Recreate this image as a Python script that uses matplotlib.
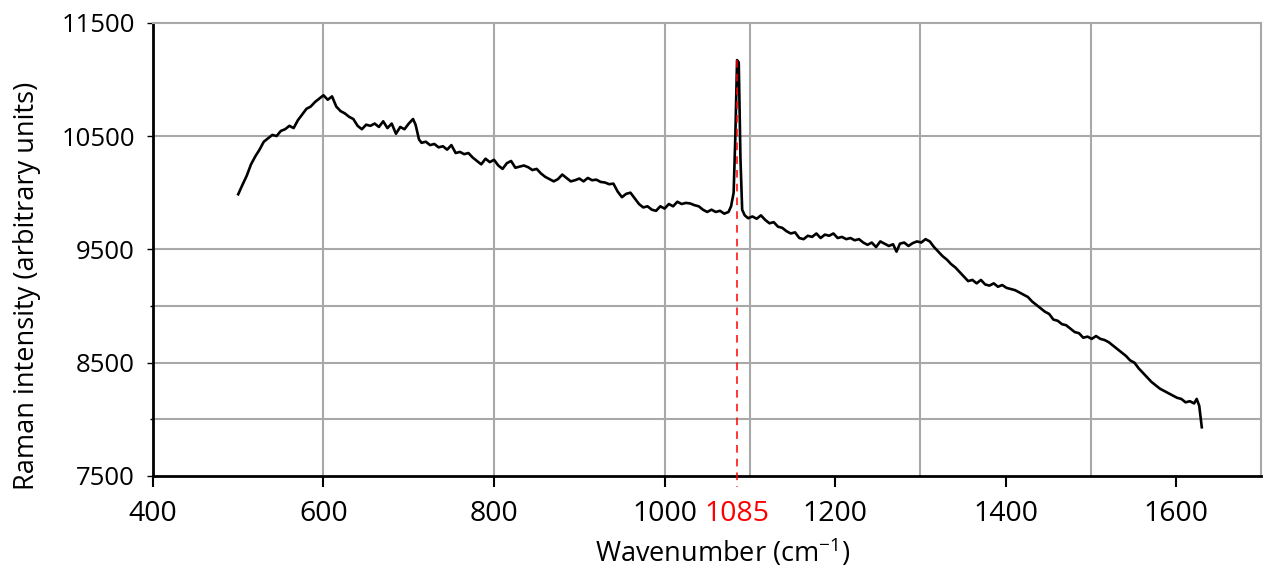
import matplotlib.pyplot as plt

plt.rcParams['font.family'] = ['Open Sans', 'DejaVu Sans']
plt.rcParams['mathtext.default'] = 'regular'

# Raman spectrum (wavenumber in cm-1, intensity in a.u.)
wavenumber = [
    500, 505, 510, 515, 520, 525, 530, 535, 540, 545, 550, 555, 560, 565, 570, 575, 580, 585, 590, 595,
    600, 605, 610, 615, 620, 625, 630, 635, 640, 645, 650, 655, 660, 665, 670, 675, 680, 685, 690, 695,
    700, 705, 708, 712, 715, 720, 725, 730, 735, 740, 745, 750, 755, 760, 765, 770, 775, 780, 785, 790,
    795, 800, 805, 810, 815, 820, 825, 830, 835, 840, 845, 850, 855, 860, 865, 870, 875, 880, 885, 890,
    895, 900, 905, 910, 915, 920, 925, 930, 935, 940, 945, 950, 955, 960, 965, 970, 975, 980, 985, 990,
    995, 1000, 1005, 1010, 1015, 1020, 1025, 1030, 1035, 1040, 1045, 1050, 1055, 1060, 1065, 1070, 1075, 1078, 1081, 1083,
    1085, 1087, 1089, 1091, 1094, 1098, 1103, 1108, 1113, 1118, 1123, 1128, 1133, 1138, 1143, 1148, 1153, 1158, 1163, 1168,
    1173, 1178, 1183, 1188, 1193, 1198, 1203, 1208, 1213, 1218, 1223, 1228, 1233, 1238, 1243, 1248, 1253, 1258, 1263, 1268,
    1272, 1276, 1281, 1286, 1291, 1296, 1301, 1306, 1311, 1316, 1321, 1326, 1331, 1336, 1341, 1346, 1351, 1356, 1361, 1366,
    1371, 1376, 1381, 1386, 1391, 1396, 1401, 1406, 1411, 1416, 1421, 1426, 1431, 1436, 1441, 1446, 1451, 1456, 1461, 1466,
    1471, 1476, 1481, 1486, 1491, 1496, 1501, 1506, 1511, 1516, 1521, 1526, 1531, 1536, 1541, 1546, 1551, 1556, 1561, 1566,
    1571, 1576, 1581, 1586, 1591, 1596, 1601, 1606, 1611, 1616, 1621, 1624, 1627, 1630,
]
intensity = [
    9986, 10070, 10150, 10250, 10320, 10380, 10450, 10480, 10510, 10500, 10545, 10560, 10590, 10570, 10640, 10690, 10740, 10760, 10800, 10830,
    10860, 10820, 10850, 10760, 10720, 10700, 10670, 10650, 10590, 10560, 10600, 10590, 10610, 10580, 10630, 10570, 10610, 10520, 10580, 10560,
    10610, 10650, 10600, 10470, 10440, 10450, 10420, 10430, 10400, 10410, 10380, 10420, 10350, 10360, 10340, 10350, 10310, 10280, 10250, 10300,
    10270, 10290, 10240, 10210, 10260, 10280, 10220, 10230, 10240, 10225, 10200, 10210, 10170, 10140, 10120, 10100, 10120, 10160, 10130, 10100,
    10110, 10125, 10100, 10130, 10110, 10115, 10095, 10090, 10075, 10080, 10010, 9960, 9990, 10000, 9950, 9900, 9870, 9880, 9850, 9840,
    9880, 9860, 9900, 9880, 9920, 9900, 9910, 9905, 9890, 9880, 9850, 9830, 9850, 9830, 9840, 9815, 9830, 9880, 10000, 10500,
    11170, 11150, 10300, 9850, 9800, 9775, 9790, 9770, 9800, 9760, 9730, 9740, 9700, 9690, 9660, 9640, 9650, 9600, 9590, 9620,
    9610, 9640, 9600, 9630, 9620, 9640, 9600, 9610, 9590, 9600, 9580, 9590, 9560, 9540, 9560, 9520, 9570, 9550, 9530, 9545,
    9480, 9550, 9560, 9530, 9555, 9570, 9560, 9590, 9570, 9520, 9480, 9440, 9410, 9370, 9340, 9300, 9260, 9220, 9230, 9200,
    9230, 9190, 9180, 9200, 9170, 9185, 9160, 9150, 9140, 9120, 9100, 9080, 9040, 9010, 8980, 8950, 8930, 8880, 8870, 8840,
    8830, 8800, 8770, 8760, 8720, 8730, 8710, 8735, 8710, 8700, 8680, 8650, 8620, 8590, 8560, 8520, 8500, 8450, 8410, 8370,
    8330, 8300, 8270, 8250, 8230, 8210, 8190, 8180, 8150, 8160, 8140, 8180, 8120, 7930,
]

peak_wn = 1085
peak_val = 11170

x_ticks = [400, 600, 800, 1000, 1085, 1200, 1400, 1600]
y_ticks = [7500, 8500, 9500, 10500, 11500]
x_grid = [600, 800, 1000, 1100, 1300, 1500]
y_grid = [8000, 8500, 9000, 9500, 10500]

fig = plt.figure(figsize=(12.64, 5.68), dpi=100)
ax = fig.add_axes([0.121, 0.162, 0.877, 0.798])

grid_col = '#a8a8a8'
for g in x_grid:
    ax.axvline(g, color=grid_col, lw=1.5, zorder=1)
for g in y_grid:
    ax.axhline(g, color=grid_col, lw=1.5, zorder=1)

ax.plot(wavenumber, intensity, color='black', lw=1.9, zorder=3)

# dashed marker for the peak, running just below the axis like a tick
ax.plot([peak_wn, peak_wn], [peak_val, 7405], color='red', lw=1.1,
        dashes=(5, 4), clip_on=False, zorder=4)

ax.set_xlim(400, 1700)
ax.set_ylim(7500, 11500)

ax.spines['left'].set_linewidth(2)
ax.spines['bottom'].set_linewidth(2)
ax.spines['top'].set_color(grid_col)
ax.spines['right'].set_color(grid_col)
ax.spines['top'].set_linewidth(1.5)
ax.spines['right'].set_linewidth(1.5)

ax.set_xticks(x_ticks)
ax.set_xticklabels([str(t) for t in x_ticks])
ax.set_yticks(y_ticks)
ax.set_yticklabels([str(t) for t in y_ticks])
ax.tick_params(axis='x', direction='out', length=8, width=1.5, labelsize=20.5, pad=9)
ax.tick_params(axis='y', direction='out', length=4, width=1, labelsize=18.5, pad=9)
ax.set_yticks([8000, 9000], minor=True)
ax.tick_params(axis='y', which='minor', length=2, width=1)

idx = x_ticks.index(peak_wn)
ax.get_xticklabels()[idx].set_color('red')
ax.xaxis.get_major_ticks()[idx].tick1line.set_visible(False)

ax.set_xlabel('Wavenumber (cm$^{-1}$)', fontsize=19.5)
ax.set_ylabel('Raman intensity (arbitrary units)', fontsize=19.5)
ax.xaxis.set_label_coords(0.514, -0.133)
ax.yaxis.set_label_coords(-0.101, 0.42)

plt.savefig('out.png', dpi=100)
